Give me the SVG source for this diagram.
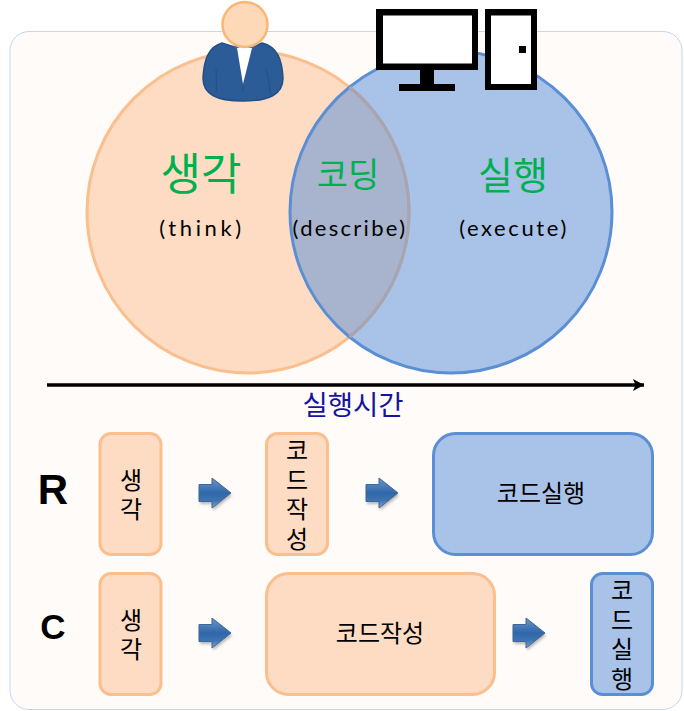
<svg xmlns="http://www.w3.org/2000/svg" width="684" height="711" viewBox="0 0 684 711">
<style>
.peach{fill:#FDDCC3;stroke:#FBBF8E;stroke-width:3}
.blue{fill:#A9C3E8;stroke:#5B8FD4;stroke-width:3}
.k{font-family:"Noto Sans CJK KR","Noto Sans",sans-serif;font-size:24px;fill:#000;text-anchor:middle}
.v{writing-mode:vertical-rl;letter-spacing:5.5px}
.g{font-family:"Noto Sans CJK KR",sans-serif;fill:#00B050;text-anchor:middle}
.e{font-family:"Lato","Liberation Sans",sans-serif;font-size:22px;fill:#000;text-anchor:middle}
.h{font-family:"Liberation Sans",sans-serif;font-weight:bold;fill:#000;text-anchor:middle}
</style>
<defs>
<linearGradient id="ag" x1="0" y1="0" x2="0" y2="1"><stop offset="0" stop-color="#6C97CB"/><stop offset=".5" stop-color="#2F67A8"/><stop offset=".75" stop-color="#3F74B2"/><stop offset="1" stop-color="#7FA4CF"/></linearGradient>
<filter id="sh" x="-30%" y="-30%" width="160%" height="170%"><feGaussianBlur stdDeviation="1.6"/></filter>
<marker id="mh" markerUnits="userSpaceOnUse" markerWidth="12" markerHeight="12" refX="11" refY="6" orient="auto"><path d="M0 0L11 6L0 12L2.500 6Z" fill="#000"/></marker>
<g id="ar"><path d="M0 6.500H13V0L32 15L13 30V23.500H0Z" transform="translate(1,2.5)" fill="#000" opacity=".28" filter="url(#sh)"/><path d="M0 6.500H13V0L32 15L13 30V23.500H0Z" fill="url(#ag)" stroke="#3F6797" stroke-width="1"/></g>
</defs>
<rect id="panel" x="10" y="31.500" width="672" height="678" rx="19" fill="#FFFBF8" stroke="#C5D6EE" stroke-width="1"/>
<g id="think"><circle cx="248" cy="212" r="161" fill="#FDDCC3" stroke="#FBBF8E" stroke-width="3"/></g>
<g id="execute"><circle cx="451" cy="212" r="161" fill="#538BD8" fill-opacity=".5"/><circle cx="451" cy="212" r="161" fill="none" stroke="#5B8FD4" stroke-width="3"/></g>
<path d="M349.500 87A161 161 0 0 1 349.500 337" fill="none" stroke="#A9A5B0" stroke-width="3"/>
<g id="person">
<path d="M222 43C208 47 204 60 203 78C203 94 216 101 243 101C270 101 283 94 283 78C282 60 278 47 262 43L244 50Z" fill="#2B5C98" stroke="#234F88" stroke-width="1.500"/>
<path d="M233 46L238 50L237 45ZM255 46L251 50L252 45Z" fill="#4A63D0"/>
<path d="M237 48H252L243 84Z" fill="#fff"/>
<path d="M216 69Q217 84 216 93M266 69Q270 82 270 93M243 85V92" fill="none" stroke="#234F88" stroke-width="1"/>
<circle cx="245" cy="24.500" r="22.500" fill="#FDD9B8" stroke="#FBB677" stroke-width="2.500"/>
</g>
<g id="computer">
<rect x="376" y="9" width="102" height="61" fill="#000"/><rect x="383" y="15.500" width="89" height="48" fill="#fff"/>
<rect x="420" y="70" width="14" height="15" fill="#000"/><rect x="399" y="84" width="56" height="7" fill="#000"/>
<rect x="485" y="9" width="52" height="81" fill="#000"/><rect x="491" y="15.500" width="40" height="68.500" fill="#fff"/>
<rect x="519" y="46" width="7" height="7" fill="#000"/>
</g>
<g id="labels">
<text class="g" x="201" y="190" font-size="44">생각</text>
<text class="g" x="348" y="187" font-size="34">코딩</text>
<text class="g" x="513" y="189" font-size="38">실행</text>
<text class="e" x="202" y="236" letter-spacing="3.600">(think)</text>
<text class="e" x="350" y="236" letter-spacing="2.300">(describe)</text>
<text class="e" x="514" y="236" letter-spacing="2.600">(execute)</text>
</g>
<g id="connectors">
<line x1="47" y1="385" x2="644" y2="385" stroke="#000" stroke-width="3.500" marker-end="url(#mh)"/>
<use href="#ar" x="199" y="478"/><use href="#ar" x="366" y="478"/><use href="#ar" x="199" y="618"/><use href="#ar" x="513" y="618"/>
</g>
<text id="axis" x="353" y="415" font-family="Noto Sans CJK KR,sans-serif" font-size="27.500" fill="#1414A0" text-anchor="middle">실행시간</text>
<text class="h" x="53" y="504" font-size="42">R</text>
<text class="h" x="53" y="639" font-size="35">C</text>
<g id="r1"><rect class="peach" x="100" y="433.500" width="61" height="121" rx="11"/><text class="k v" x="131" y="497">생각</text></g>
<g id="r2"><rect class="peach" x="266.500" y="433.500" width="61" height="121" rx="11"/><text class="k v" x="297" y="497">코드작성</text></g>
<g id="r3"><rect class="blue" x="433.500" y="433.500" width="219" height="121" rx="22"/><text class="k" x="541" y="502">코드실행</text></g>
<g id="c1"><rect class="peach" x="100" y="573.500" width="61" height="121" rx="11"/><text class="k v" x="131" y="637">생각</text></g>
<g id="c2"><rect class="peach" x="266.500" y="573.500" width="228" height="121" rx="22"/><text class="k" x="380" y="642">코드작성</text></g>
<g id="c3"><rect class="blue" x="591.500" y="573.500" width="61" height="121" rx="11"/><text class="k v" x="622" y="637">코드실행</text></g>
</svg>
